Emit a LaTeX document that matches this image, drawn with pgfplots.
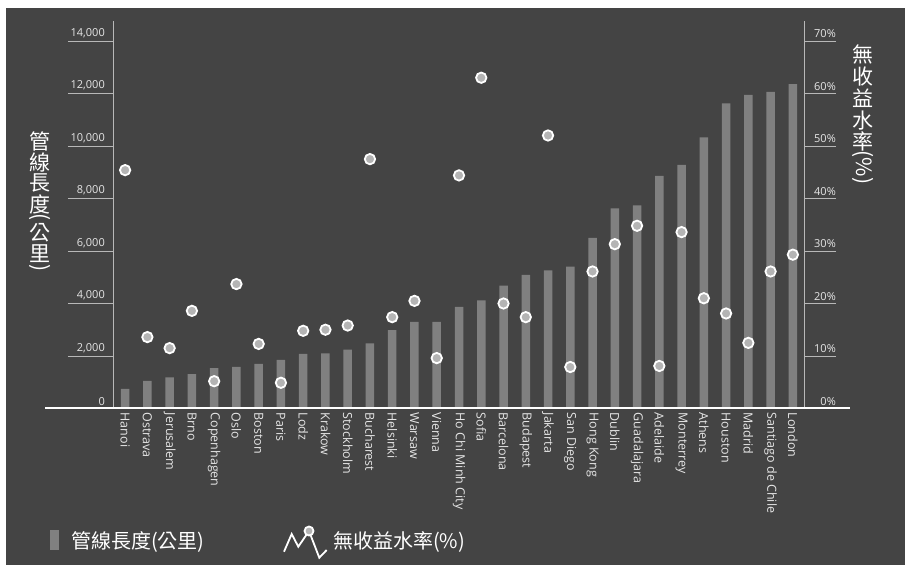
\documentclass[border=0pt]{standalone}
\usepackage{pgfplots}
\pgfplotsset{compat=1.18}
\usepackage{pgfplotstable}
\usepackage{graphicx}
\usepackage{fontspec}
\setmainfont{Open Sans}
\newfontfamily\cjk{Noto Sans CJK TC}

\definecolor{bg}{HTML}{444444}
\definecolor{barc}{HTML}{808080}
\definecolor{dotc}{HTML}{B4B4B4}
\definecolor{axc}{HTML}{B8B8B8}
\definecolor{txt}{HTML}{E6E6E6}

% pipeline length (km) and non-revenue water (%) per city
\pgfplotstableread{
idx km    nrw
0   750   45.4
1   1050  13.6
2   1190  11.5
3   1310  18.6
4   1540  5.2
5   1590  23.7
6   1700  12.3
7   1850  4.9
8   2080  14.8
9   2100  15.0
10  2240  15.8
11  2480  47.5
12  2990  17.4
13  3300  20.5
14  3300  9.6
15  3870  44.4
16  4120  63.0
17  4680  20.0
18  5090  17.4
19  5260  52.0
20  5400  7.9
21  6500  26.1
22  7620  31.3
23  7740  34.8
24  8860  8.1
25  9280  33.6
26  10330 21.0
27  11620 18.1
28  11950 12.5
29  12060 26.1
30  12360 29.3
}\citydata

\begin{document}
\begin{tikzpicture}
\fill[white] (0pt,0pt) rectangle (905pt,565pt);
\fill[bg] (6pt,0pt) rectangle (905pt,557pt);

\begin{axis}[
  at={(114pt,156.5pt)}, anchor=south west,
  scale only axis, width=690pt, height=387.8pt,
  xmin=-0.5, xmax=30.5, ymin=0, ymax=14773,
  axis lines*=left,
  x axis line style={draw=none},
  y axis line style={axc, line width=1pt},
  xtick={0,...,30},
  xticklabels={Hanoi,Ostrava,Jerusalem,Brno,Copenhagen,Oslo,Boston,Paris,Lodz,Krakow,Stockholm,Bucharest,Helsinki,Warsaw,Vienna,Ho Chi Minh City,Sofia,Barcelona,Budapest,Jakarta,San Diego,Hong Kong,Dublin,Guadalajara,Adelaide,Monterrey,Athens,Houston,Madrid,Santiago de Chile,London},
  xtick style={draw=none},
  ytick={0,2000,...,14000},
  tick align=outside,
  major tick length=46pt,
  ytick style={axc, line width=0.8pt},
  scaled y ticks=false,
  /pgf/number format/1000 sep={,},
  /pgf/number format/assume math mode=true,
  yticklabel style={font=\fontsize{11}{11}\selectfont, text=txt, anchor=south east, inner sep=0pt, xshift=37pt, yshift=3pt},
  xticklabel style={font=\fontsize{12.5}{13}\selectfont, text=txt, inner sep=0pt, yshift=42pt, rotate=-90, anchor=west},
  ybar, bar width=8.5pt,
]
\addplot[fill=barc, draw=none, bar shift=0pt] table[x=idx, y=km]{\citydata};
\end{axis}

\begin{axis}[
  at={(114pt,156.5pt)}, anchor=south west,
  scale only axis, width=690pt, height=387.8pt,
  xmin=-0.5, xmax=30.5, ymin=0, ymax=73.865,
  axis y line*=right, axis x line=none,
  y axis line style={axc, line width=1pt},
  ytick={0,10,...,70},
  yticklabel={\pgfmathprintnumber{\tick}\%},
  tick align=outside,
  major tick length=32pt,
  ytick style={axc, line width=0.8pt},
  /pgf/number format/assume math mode=true,
  yticklabel style={font=\fontsize{11}{11}\selectfont, text=txt, anchor=south east, inner sep=0pt, yshift=3pt},
  clip=false,
]
\addplot[only marks, mark=*, mark size=5.2pt, mark options={fill=dotc, draw=white, line width=1.8pt}] table[x=idx, y=nrw]{\citydata};
\end{axis}

% baseline
\draw[white, line width=2.8pt] (45pt,157pt) -- (850pt,157pt);

% left axis title, stacked vertically
\begin{scope}[every node/.style={text=white, font=\cjk\fontsize{21}{21}\selectfont, inner sep=0pt}]
\node at (40pt,423.3pt) {管};
\node at (40pt,402pt) {線};
\node at (40pt,382pt) {長};
\node at (40pt,361pt) {度};
\node at (40pt,347.5pt) {\rotatebox{-90}{(}};
\node at (40pt,332.5pt) {公};
\node at (40pt,311pt) {里};
\node at (40pt,296.5pt) {\rotatebox{-90}{)}};
% right axis title
\node at (863pt,510.8pt) {無};
\node at (863pt,488pt) {收};
\node at (863pt,466.7pt) {益};
\node at (863pt,444.7pt) {水};
\node at (863pt,423.3pt) {率};
\node at (863pt,397.5pt) {\rotatebox{-90}{(\%)}};
\end{scope}

% legend
\fill[barc] (50pt,15pt) rectangle (59pt,35pt);
\node[anchor=west, inner sep=0pt, text=white, font=\cjk\fontsize{20}{20}\selectfont] at (71pt,23.5pt) {管線長度(公里)};
\draw[white, line width=1.8pt, line join=miter] (284pt,13.3pt) -- (291.7pt,31pt) -- (298.3pt,18.3pt) -- (309pt,34pt) -- (319.3pt,7.3pt) -- (326.7pt,15pt);
\filldraw[fill=dotc, draw=white, line width=1.8pt] (309pt,34pt) circle (4.5pt);
\node[anchor=west, inner sep=0pt, text=white, font=\cjk\fontsize{20}{20}\selectfont] at (333pt,23.5pt) {無收益水率(\%)};
\end{tikzpicture}
\end{document}
